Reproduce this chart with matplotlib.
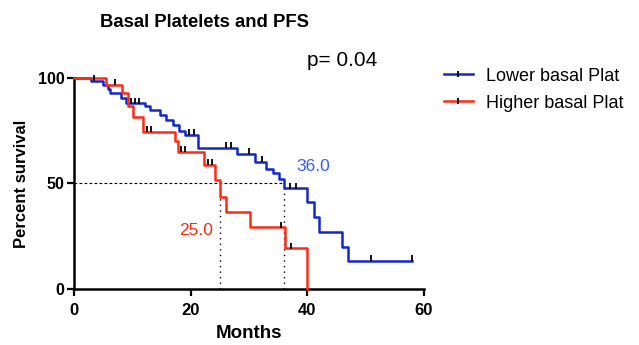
import matplotlib
matplotlib.use('Agg')
import matplotlib.pyplot as plt
from matplotlib.lines import Line2D

plt.rcParams['font.family'] = ['Liberation Sans', 'DejaVu Sans']

# Kaplan-Meier steps: (time in months, percent surviving after the drop)
low_t = [0, 3, 5, 5.8, 6.2, 8.1, 9, 12.2, 13, 14.7, 15.8, 17, 18, 19, 21.3,
         28, 31, 33, 34.2, 35.2, 36, 40, 41.1, 42, 46, 47, 58]
low_s = [100, 98.8, 96.7, 95, 93, 90.5, 88, 86.5, 84.8, 82.5, 80, 77.5, 75, 73, 67,
         64, 60.3, 56.7, 55, 52, 47.7, 41.1, 34.3, 27.2, 20, 13.4, 13.4]
low_cens_t = [3.5, 9.8, 10.5, 11.2, 19.8, 20.5, 26, 27, 30, 32.3, 37, 38, 51, 58]
low_cens_s = [98.8, 88, 88, 88, 73, 73, 67, 67, 64, 60.3, 47.7, 47.7, 13.4, 13.4]

high_t = [0, 5.5, 8.2, 9.3, 10.2, 11.9, 17.3, 17.9, 22.3, 24.2, 25.1, 26,
          30.2, 36.2, 40]
high_s = [100, 96.7, 92.7, 86.5, 81.7, 74.6, 70, 65, 58.8, 51.7, 43.8, 36.7,
          29.2, 19.3, 0]
high_cens_t = [7, 12.5, 13.2, 18.3, 19, 22.9, 23.7, 35.5, 37.2]
high_cens_s = [96.7, 74.6, 74.6, 65, 65, 58.8, 58.8, 29.2, 19.3]

median_low = 36.0
median_high = 25.0
p_value = 0.04

blue = '#1428c8'
red = '#ff2a14'

fig = plt.figure(figsize=(6.39, 3.45), dpi=100)
ax = fig.add_axes([0.1158, 0.1623, 0.5477, 0.6117])

ax.step(low_t, low_s, where='post', color=blue, lw=1.8, clip_on=False, zorder=3)
ax.step(high_t, high_s, where='post', color=red, lw=1.8, clip_on=False, zorder=3)
ax.plot(low_cens_t, [s + 1.2 for s in low_cens_s], ls='none', marker='|',
        ms=4, mew=1.3, color='black', clip_on=False, zorder=4)
ax.plot(high_cens_t, [s + 1.2 for s in high_cens_s], ls='none', marker='|',
        ms=4, mew=1.3, color='black', clip_on=False, zorder=4)

# median survival guides
ax.plot([0, median_low], [50, 50], color='black', lw=0.8, ls=(0, (2.5, 2)), zorder=2)
ax.plot([median_high, median_high], [0, 50], color='black', lw=1.0, ls=(0, (1, 3)), zorder=2)
ax.plot([median_low, median_low], [0, 50], color='black', lw=1.0, ls=(0, (1, 3)), zorder=2)
ax.text(median_low + 2.2, 58, f'{median_low:.1f}', color='#3a5aff', fontsize=12.5,
        ha='left', va='center')
ax.text(median_high - 1.2, 27.5, f'{median_high:.1f}', color=red, fontsize=12.5,
        ha='right', va='center')

ax.text(46, 108.5, f'p= {p_value}', fontsize=15, ha='center', va='center', clip_on=False)

ax.set_xlim(0, 60)
ax.set_ylim(0, 100)
ax.set_xticks([0, 20, 40, 60])
ax.set_yticks([0, 50, 100])
for spine in ['top', 'right']:
    ax.spines[spine].set_visible(False)
for spine in ['left', 'bottom']:
    ax.spines[spine].set_linewidth(1.8)
ax.tick_params(direction='out', length=5, width=1.6, labelsize=12)
ax.tick_params(axis='x', pad=5)
ax.tick_params(axis='y', pad=2, labelsize=11.5)
for lab in ax.get_xticklabels() + ax.get_yticklabels():
    lab.set_fontweight('bold')

ax.set_xlabel('Months', fontsize=13.5, fontweight='bold', labelpad=5)
ax.set_ylabel('Percent survival', fontsize=12, fontweight='bold', labelpad=6)

fig.text(0.32, 0.935, 'Basal Platelets and PFS', fontsize=13.3, fontweight='bold',
         ha='center', va='center')

handles = [
    Line2D([], [], color=blue, lw=1.8, marker='|', ms=5, mew=1.3, mec='black'),
    Line2D([], [], color=red, lw=1.8, marker='|', ms=5, mew=1.3, mec='black'),
]
fig.legend(handles, ['Lower basal Plat', 'Higher basal Plat'], loc='upper left',
           bbox_to_anchor=(0.683, 0.825), frameon=False, fontsize=13,
           handlelength=1.6, handletextpad=0.75, labelspacing=0.55, numpoints=1,
           borderaxespad=0)

fig.savefig('out.png', dpi=100)
